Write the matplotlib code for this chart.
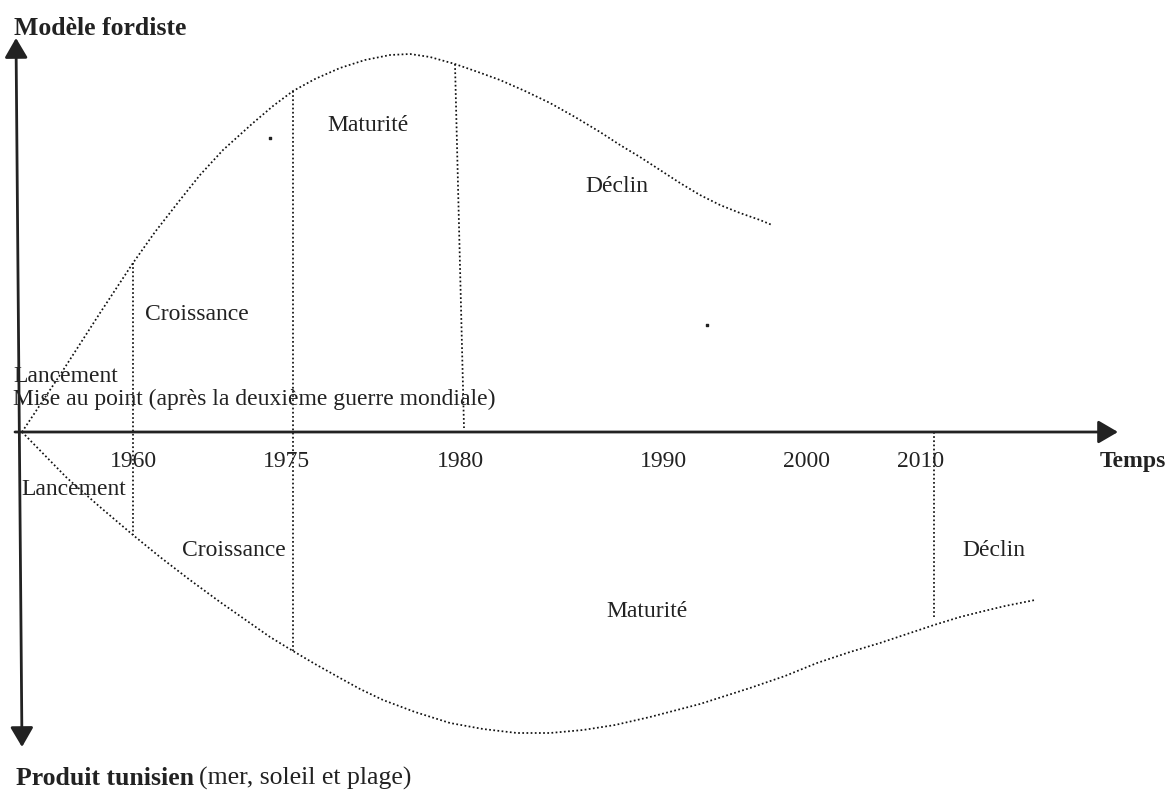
import matplotlib
matplotlib.use("Agg")
import matplotlib.pyplot as plt

# Diagram drawn in picture units (x to the right, y downwards)
upper_x = [22, 60, 100, 133, 155, 180, 200, 223, 253, 273, 293, 315, 340, 365, 390, 410, 430,
           455, 478, 500, 525, 550, 575, 600, 620, 640, 660, 680, 700, 720, 740, 760, 772]
upper_y = [432, 375, 313, 263, 232, 200, 175, 150, 123, 106, 91, 79, 68, 60, 55, 54, 57,
           64, 72, 80, 91, 103, 117, 132, 145, 157, 170, 183, 195, 205, 213, 220, 225]

lower_x = [22, 67, 100, 133, 160, 190, 220, 250, 270, 293, 315, 340, 360, 383, 415, 450, 483,
           517, 550, 583, 615, 650, 700, 750, 785, 817, 850, 880, 907, 934, 960, 980, 1005, 1035]
lower_y = [432, 478, 507, 535, 557, 580, 602, 623, 637, 651, 664, 678, 689, 700, 712, 723, 729,
           733, 733, 730, 725, 717, 704, 688, 676, 663, 652, 643, 634, 625, 617, 612, 606, 600]

# phase separators: (x_top, y_top, x_bottom, y_bottom)
separators = [(133, 263, 133, 535), (293, 91, 293, 651), (455, 64, 464, 428), (934, 432, 934, 617)]
stray_dots = [(270, 138), (707, 325)]

years = ["1960", "1975", "1980", "1990", "2000", "2010"]
year_x = [110, 263, 437, 640, 783, 897]

upper_phases = ["Croissance", "Maturité", "Déclin"]
upper_phase_xy = [(145, 320), (327, 131), (585, 192)]
lower_phases = ["Lancement", "Croissance", "Maturité", "Déclin"]
lower_phase_xy = [(21, 495), (182, 556), (606, 617), (962, 556)]

plt.rcParams['font.family'] = ['Liberation Serif', 'DejaVu Serif']
ink = '#222222'
dot = (0, (1, 1.4))

fig = plt.figure(figsize=(11.68, 7.90), dpi=100)
ax = fig.add_axes([0, 0, 1, 1])
ax.set_xlim(0, 1168)
ax.set_ylim(790, 0)
ax.axis('off')

# axes with arrows
ax.annotate('', xy=(1118, 432), xytext=(15, 432),
            arrowprops=dict(arrowstyle='-|>,head_length=0.6,head_width=0.35', lw=2.0,
                            color=ink, shrinkA=0, shrinkB=0, mutation_scale=20))
ax.annotate('', xy=(16, 38), xytext=(22, 747),
            arrowprops=dict(arrowstyle='<|-|>,head_length=0.6,head_width=0.35', lw=2.0,
                            color=ink, shrinkA=0, shrinkB=0, mutation_scale=20))

# life-cycle curves
ax.plot(upper_x, upper_y, color='#111111', lw=1.25, linestyle=dot)
ax.plot(lower_x, lower_y, color='#111111', lw=1.25, linestyle=dot)
for x0, y0, x1, y1 in separators:
    ax.plot([x0, x1], [y0, y1], color='#111111', lw=1.25, linestyle=dot)
ax.scatter([d[0] for d in stray_dots], [d[1] for d in stray_dots], s=1.2, color=ink, marker='s')

fs = 17
for lab, x in zip(years, year_x):
    ax.text(x, 467, lab, fontsize=fs, color=ink, va='baseline')
for lab, (x, y) in zip(upper_phases, upper_phase_xy):
    ax.text(x, y, lab, fontsize=fs, color=ink, va='baseline')
for lab, (x, y) in zip(lower_phases, lower_phase_xy):
    ax.text(x, y, lab, fontsize=fs, color=ink, va='baseline')

ax.text(13, 382, "Lancement", fontsize=fs, color=ink, va='baseline')
ax.text(13, 405, "Mise au point (après la deuxième guerre mondiale)", fontsize=fs, color=ink, va='baseline')
ax.text(1100, 467, "Temps", fontsize=fs, fontweight='bold', color=ink, va='baseline')
ax.text(14, 35, "Modèle fordiste", fontsize=18.5, fontweight='bold', color=ink, va='baseline')

t = ax.text(16, 785, "Produit tunisien", fontsize=18.5, fontweight='bold', color=ink, va='baseline')
fig.canvas.draw()
bb = t.get_window_extent()
x_end = ax.transData.inverted().transform((bb.x1, bb.y0))[0]
ax.text(x_end + 5, 785, "(mer, soleil et plage)", fontsize=18.5, color=ink, va='baseline')

fig.savefig("out.png", dpi=100)
